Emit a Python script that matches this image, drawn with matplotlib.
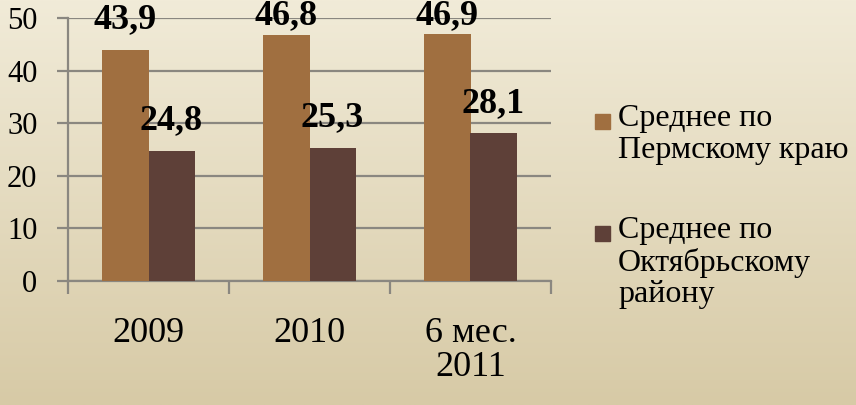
import numpy as np
import matplotlib
matplotlib.use("Agg")
import matplotlib.pyplot as plt
from matplotlib.patches import Rectangle
from matplotlib import font_manager as fm

REG_PATH = fm.findfont(fm.FontProperties(family="Liberation Serif"))
BOLD_PATH = fm.findfont(fm.FontProperties(family="Liberation Serif", weight="bold"))


def fp(size, bold=False):
    return fm.FontProperties(fname=BOLD_PATH if bold else REG_PATH, size=size)


categories = ["2009", "2010", "6 мес.\n2011"]
perm_values = [43.9, 46.8, 46.9]
okt_values = [24.8, 25.3, 28.1]
value_labels_perm = ["43,9", "46,8", "46,9"]
value_labels_okt = ["24,8", "25,3", "28,1"]
series_names = ["Среднее по\nПермскому краю", "Среднее по\nОктябрьскому\nрайону"]
yticks = [0, 10, 20, 30, 40, 50]

c_perm = "#A06F40"
c_okt = "#5E4038"
grid_c = "#8A8780"

W, H = 856, 405
fig = plt.figure(figsize=(W / 100, H / 100), dpi=100)

# background gradient
bg = fig.add_axes([0, 0, 1, 1], zorder=-10)
top = np.array([241, 235, 216]) / 255
bot = np.array([215, 202, 166]) / 255
t = np.linspace(0, 1, 256)[:, None]
grad = top * (1 - t) + bot * t
bg.imshow(grad[:, None, :].repeat(2, axis=1), aspect="auto", extent=[0, 1, 0, 1])
bg.axis("off")

ax = fig.add_axes([68 / W, (H - 281) / H, (551 - 68) / W, (281 - 18) / H])
ax.set_facecolor("none")

x = np.arange(len(categories))
bw = 0.286
ax.bar(x - bw / 2, perm_values, bw, color=c_perm, zorder=3)
ax.bar(x + bw / 2, okt_values, bw, color=c_okt, zorder=3)

ax.set_ylim(0, 50)
ax.set_xlim(-0.5, len(categories) - 0.5)
ax.set_yticks(yticks)
ax.set_yticklabels([str(v) for v in yticks], fontproperties=fp(22))
ax.yaxis.grid(True, color=grid_c, linewidth=1.6, zorder=0)
ax.set_axisbelow(True)

ax.set_xticks(np.arange(len(categories) + 1) - 0.5)
ax.set_xticklabels([])
ax.set_xticks(x, minor=True)
ax.set_xticklabels(categories, minor=True, fontproperties=fp(26), linespacing=1.05)
ax.tick_params(axis="x", which="major", length=9, width=1.6, color=grid_c)
ax.tick_params(axis="x", which="minor", length=0, pad=26)
ax.tick_params(axis="y", length=8, width=1.6, color=grid_c, pad=14)

for s in ["top", "right"]:
    ax.spines[s].set_visible(False)
for s in ["left", "bottom"]:
    ax.spines[s].set_color(grid_c)
    ax.spines[s].set_linewidth(1.6)

for xi, v, lab in zip(x, perm_values, value_labels_perm):
    ax.text(xi - bw / 2, min(v + 5.7, 50.5), lab, ha="center", va="center",
            fontproperties=fp(26, True), zorder=5, clip_on=False)
for xi, v, lab in zip(x, okt_values, value_labels_okt):
    ax.text(xi + bw / 2, v + 5.7, lab, ha="center", va="center",
            fontproperties=fp(26, True), zorder=5)

# legend
leg_colors = [c_perm, c_okt]
leg_tops = [104, 216]
for name, col, yc in zip(series_names, leg_colors, leg_tops):
    fig.patches.append(Rectangle((595 / W, (H - yc - 25) / H), 15 / W, 15 / H,
                                 transform=fig.transFigure, color=col))
    fig.text(618 / W, (H - yc) / H, name, ha="left", va="top",
             fontproperties=fp(23), linespacing=1.12, transform=fig.transFigure)

fig.savefig("out.png", dpi=100)
